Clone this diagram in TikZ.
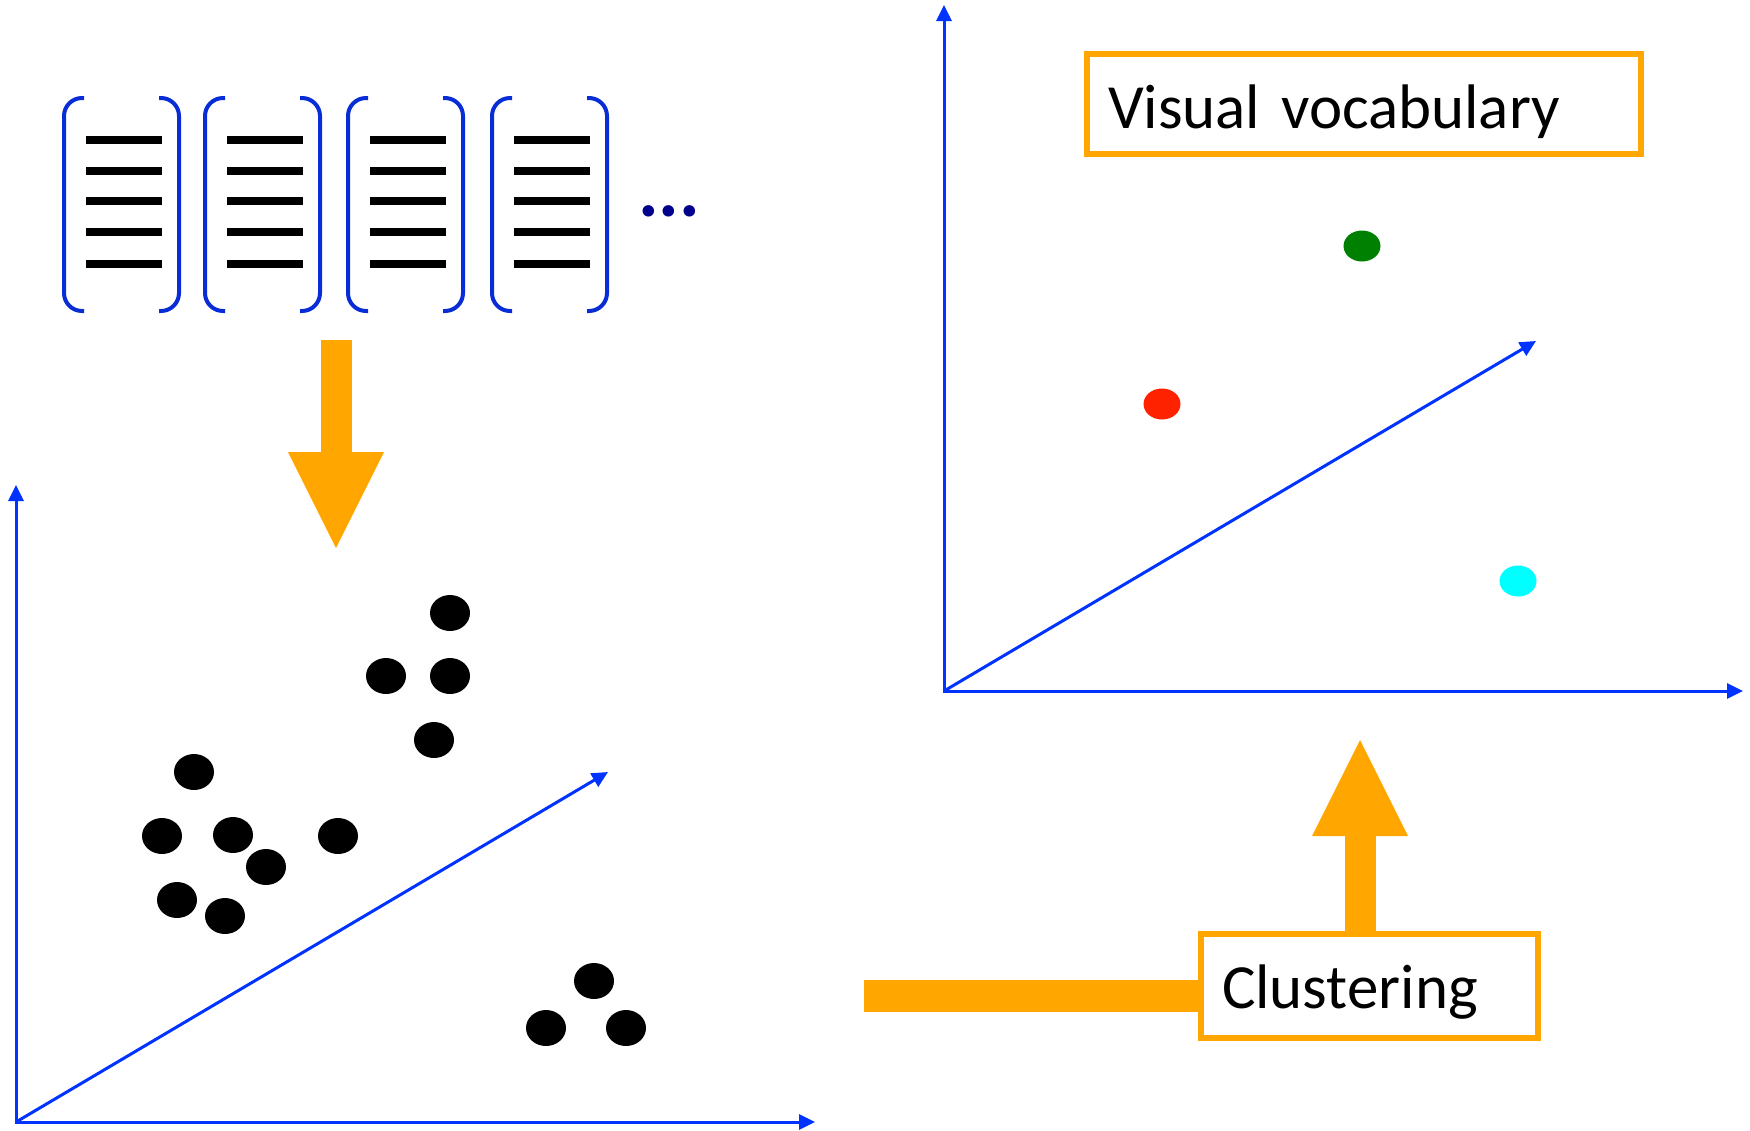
\documentclass[tikz,border=0pt]{standalone}
\usepackage{fontspec}
\setmainfont{Carlito}[WordSpace=0.6]
\usetikzlibrary{arrows.meta}
\definecolor{axisblue}{RGB}{0,51,255}
\definecolor{brblue}{RGB}{8,44,214}
\definecolor{navy}{RGB}{0,0,140}
\definecolor{boxorange}{RGB}{255,167,0}
\definecolor{vgreen}{RGB}{0,128,0}
\definecolor{vred}{RGB}{255,34,0}
\definecolor{vcyan}{RGB}{0,255,255}
\begin{document}
\begin{tikzpicture}[
  x=0.1mm, y=-0.1mm,
  axis/.style={draw=axisblue, line width=0.3mm, arrows={-Triangle[length=1.6mm,width=1.5mm]}},
  axes/.style={axis, arrows={Triangle[length=1.6mm,width=1.5mm]-Triangle[length=1.6mm,width=1.5mm]}},
  bracket/.style={draw=brblue, line width=0.4mm, rounded corners=1.8mm},
  feat/.style={line width=0.75mm},
  word/.style={rectangle, draw=boxorange, fill=white, line width=0.6mm, outer sep=0pt, inner ysep=0pt, align=left, font=\fontsize{17.9}{21}\selectfont},
  bigarrow/.style={draw=boxorange, line width=3.1mm, arrows={-Triangle[length=9.6mm,width=9.6mm,line width=0pt]}},
  blob/.style={x radius=2mm, y radius=1.8mm},
  wordpt/.style={x radius=1.85mm, y radius=1.55mm}
]
\useasboundingbox (0,0) rectangle (1750,1130);

\foreach \x in {64,205,348,492} {
  \draw[bracket] (\x+20,98) -- (\x,98) -- (\x,311) -- (\x+20,311);
  \draw[bracket] (\x+95,98) -- (\x+115,98) -- (\x+115,311) -- (\x+95,311);
  \foreach \y in {140,171,201,232,264}
    \draw[feat] (\x+22,\y) -- (\x+98,\y);
}
\node[text=navy, font=\fontsize{22}{26}\selectfont\bfseries, inner sep=0pt, anchor=base] (more) at (669,216) {...};

\coordinate (dstart) at (336,340);
\coordinate (dtip) at (336,548);
\draw[bigarrow] (dstart) -- (dtip);

\coordinate (lo) at (16,1122);
\coordinate (ly) at (16,485);
\coordinate (lx) at (815,1122);
\coordinate (lz) at (608,772);
\draw[axes] (ly) -- (lo) -- (lx);
\draw[axis] (lo) -- (lz);

\foreach \px/\py in {450/613, 386/676, 450/676, 434/740, 194/772, 162/836, 233/835, 338/836, 266/867, 177/900, 225/916, 594/981, 546/1028, 626/1028}
  \fill (\px,\py) ellipse[blob];

\coordinate (ro) at (944,691);
\coordinate (ry) at (944,5);
\coordinate (rx) at (1743,691);
\coordinate (rz) at (1536,341);
\draw[axes] (ry) -- (ro) -- (rx);
\draw[axis] (ro) -- (rz);

\fill[vgreen] (1362,246) ellipse[wordpt];
\fill[vred] (1162,404) ellipse[wordpt];
\fill[vcyan] (1518,581) ellipse[wordpt];

\node[word, text width=51.2mm, inner xsep=2.1mm, text height=7.4mm, text depth=2.64mm, anchor=base west] (vocab) at (1087,128) {Visual vocabulary};
\node[word, text width=29.5mm, inner xsep=2.1mm, text height=7.4mm, text depth=3mm, anchor=base west] (clust) at (1201,1008) {Clustering};

\coordinate (barstart) at (864,996);
\draw[boxorange, line width=3.2mm] (barstart) -- (barstart -| clust.west);
\coordinate (uptip) at (1360,740);
\draw[bigarrow] (clust.north -| uptip) -- (uptip);
\end{tikzpicture}
\end{document}
